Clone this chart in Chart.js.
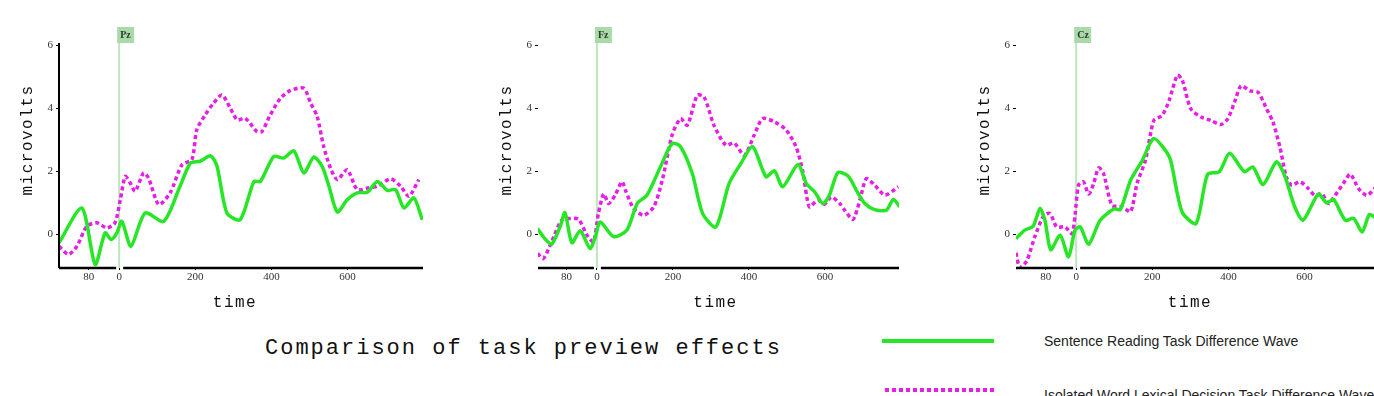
<!DOCTYPE html>
<html><head><meta charset="utf-8">
<style>
html,body{margin:0;padding:0;background:#fff;overflow:hidden;width:1374px;height:396px;position:relative}
canvas.p{position:absolute;top:0}
#title{position:absolute;left:265px;top:336px;font:22px "Liberation Mono",monospace;letter-spacing:2px;color:#111;white-space:nowrap}
.lg-line{position:absolute;height:4px}
.lg-text{position:absolute;font:14px "Liberation Sans",Arial,sans-serif;color:#222;white-space:nowrap}
</style>
<script src="https://cdn.jsdelivr.net/npm/chart.js@4/dist/chart.umd.min.js"></script>
</head><body>
<canvas class="p" id="c0" width="440" height="320" style="left:0px"></canvas>
<canvas class="p" id="c1" width="440" height="320" style="left:480px"></canvas>
<canvas class="p" id="c2" width="440" height="320" style="left:960px"></canvas>
<div id="title">Comparison of task preview effects</div>
<div class="lg-line" style="left:882px;top:339px;width:112px;background:#26e626"></div>
<div class="lg-text" id="lg0" style="left:1044px;top:333px"></div>
<div class="lg-line" style="left:885px;top:388px;width:112px;background:repeating-linear-gradient(to right,#e61ee6 0 4px,transparent 4px 7px)"></div>
<div class="lg-text" id="lg1" style="left:1044px;top:387px"></div>
<script>
// ---- data ----
const electrodes = ['Pz', 'Fz', 'Cz'];
const seriesNames = ['Sentence Reading Task Difference Wave', 'Isolated Word Lexical Decision Task Difference Wave'];
const xTickValues = [-80, 0, 200, 400, 600];
const xTickLabels = ['80', '0', '200', '400', '600'];
const yTickValues = [0, 2, 4, 6];
const yTickLabels = ['0', '2', '4', '6'];
const xAxisTitle = 'time';
const yAxisTitle = 'microvolts';

const pzSentenceTime = [-158,-98,-63,-37,-21,-6,7,31,68,117,160,187,213,240,257,283,318,354,371,406,432,459,485,511,533,551,573,599,625,652,678,704,726,748,774,796];
const pzSentence = [-0.26,0.84,-0.95,0.05,-0.16,0.05,0.42,-0.37,0.68,0.42,1.53,2.26,2.32,2.49,2.16,0.68,0.47,1.68,1.68,2.47,2.42,2.65,1.95,2.45,2.16,1.53,0.71,1.1,1.32,1.34,1.68,1.4,1.42,0.84,1.16,0.47];
const pzIsolatedTime = [-158,-133,-111,-85,-59,-32,-11,3,16,29,42,64,77,104,134,165,191,204,226,248,270,292,310,331,362,375,397,424,450,485,503,520,537,555,573,599,625,652,678,713,739,761,787];
const pzIsolated = [-0.37,-0.63,-0.37,0.26,0.37,0.21,0.37,1.1,1.84,1.63,1.37,1.95,1.79,0.95,1.32,2.21,2.37,3.32,3.79,4.16,4.42,4.0,3.63,3.68,3.26,3.26,3.79,4.32,4.56,4.63,4.16,3.74,2.79,2.1,1.74,2.05,1.42,1.47,1.53,1.76,1.53,1.21,1.74];

const fzSentenceTime = [-156,-137,-119,-97,-84,-66,-44,-18,-4,9,44,79,106,132,167,198,220,251,278,313,348,379,410,445,467,489,529,551,573,595,612,634,661,683,705,731,762,780,797];
const fzSentence = [0.19,-0.13,-0.31,0.24,0.69,-0.26,0.12,-0.44,-0.07,0.4,-0.07,0.14,0.98,1.25,2.14,2.88,2.78,1.93,0.67,0.24,1.62,2.25,2.78,1.83,2.02,1.51,2.22,1.62,1.35,0.98,1.25,1.96,1.85,1.4,0.98,0.79,0.77,1.11,0.88];
const fzIsolatedTime = [-156,-141,-119,-93,-70,-48,-26,-9,4,18,31,48,66,75,97,123,150,172,198,220,238,264,282,308,339,361,388,414,436,467,498,524,542,559,581,599,617,639,652,674,692,709,731,758,793];
const fzIsolated = [-0.6,-0.76,-0.23,0.45,0.51,0.48,-0.02,-0.23,0.67,1.28,0.98,1.25,1.67,1.4,0.82,0.61,0.88,1.72,3.15,3.67,3.46,4.41,4.36,3.46,2.83,2.9,2.51,3.15,3.67,3.57,3.31,2.78,1.99,0.88,1.09,0.96,1.19,0.98,0.77,0.48,1.09,1.77,1.56,1.25,1.51];

const czSentenceTime = [-158,-135,-113,-95,-82,-67,-42,-20,-3,11,33,63,99,116,143,174,203,231,248,278,315,345,376,403,442,464,491,526,548,574,596,636,658,676,707,729,751,770,788,798];
const czSentence = [-0.13,0.14,0.26,0.82,0.45,-0.48,-0.02,-0.71,0.14,0.24,-0.31,0.45,0.81,0.79,1.72,2.35,3.04,2.72,2.35,0.72,0.35,1.9,1.99,2.57,1.99,2.14,1.58,2.3,1.85,0.88,0.45,1.28,1.0,1.11,0.45,0.51,0.08,0.63,0.51,0.4];
const czIsolatedTime = [-158,-148,-130,-108,-86,-69,-51,-29,-11,-3,6,19,33,46,59,72,94,121,143,160,182,204,226,244,266,279,301,328,354,380,398,416,433,456,478,500,517,535,552,566,588,610,627,645,663,680,702,720,742,764,788,798];
const czIsolated = [-0.58,-1.05,-0.84,-0.05,0.58,0.67,0.24,0.24,0.03,0.61,1.56,1.67,1.28,1.62,2.11,1.93,0.93,0.88,0.72,1.62,2.35,3.61,3.77,4.24,5.05,4.88,3.98,3.72,3.61,3.48,3.66,4.19,4.71,4.55,4.5,3.98,3.56,2.77,1.82,1.56,1.67,1.45,1.24,1.29,0.98,1.24,1.62,1.91,1.45,1.24,1.51,1.6];

// ---- layout / style ----
const panelLayout = [
  {yWidth: 59, padRight: 17, xMin: -158, xMax: 798, yLine: true, titleDX: -6},
  {yWidth: 58, padRight: 21, xMin: -155, xMax: 795, yLine: false, titleDX: -3},
  {yWidth: 56, padRight: 20, xMin: -158, xMax: 798, yLine: false, titleDX: -8}
];
const GREEN = '#26e626', MAGENTA = '#e61ee6';

function pts(t, v) { return t.map((x, i) => ({x: x, y: v[i]})); }
const panelData = [
  [pts(pzSentenceTime, pzSentence), pts(pzIsolatedTime, pzIsolated)],
  [pts(fzSentenceTime, fzSentence), pts(fzIsolatedTime, fzIsolated)],
  [pts(czSentenceTime, czSentence), pts(czIsolatedTime, czIsolated)]
];

document.getElementById('lg0').textContent = seriesNames[0];
document.getElementById('lg1').textContent = seriesNames[1];

const decor = {
  id: 'decor',
  beforeDatasetsDraw(chart, args, opts) {
    const {ctx, chartArea: a, scales: {x}} = chart;
    const x0 = x.getPixelForValue(0);
    ctx.save();
    ctx.strokeStyle = '#bde6bd';
    ctx.lineWidth = 2;
    ctx.beginPath(); ctx.moveTo(x0, 40); ctx.lineTo(x0, a.bottom); ctx.stroke();
    ctx.restore();
  },
  afterDraw(chart, args, opts) {
    const {ctx, chartArea: a, scales: {x}} = chart;
    const x0 = x.getPixelForValue(0);
    ctx.save();
    // x axis line with gap at 0
    ctx.strokeStyle = '#000'; ctx.lineWidth = 2.5;
    ctx.beginPath();
    ctx.moveTo(a.left, a.bottom); ctx.lineTo(x0 - 3, a.bottom);
    ctx.moveTo(x0 + 4, a.bottom); ctx.lineTo(a.right, a.bottom);
    ctx.stroke();
    if (opts.yLine) {
      ctx.lineWidth = 2;
      ctx.beginPath(); ctx.moveTo(a.left, a.top - 2); ctx.lineTo(a.left, a.bottom); ctx.stroke();
    }
    // electrode label box
    ctx.fillStyle = '#a9dba9';
    ctx.fillRect(x0 - 2, 27, 17, 16);
    ctx.fillStyle = '#333';
    ctx.font = 'bold 10px "Liberation Serif", serif';
    ctx.textBaseline = 'middle'; ctx.textAlign = 'left';
    ctx.fillText(opts.label, x0 + 1, 35.5);
    // axis titles
    ctx.fillStyle = '#111';
    ctx.font = '16px "Liberation Mono", monospace';
    ctx.letterSpacing = '1.5px';
    ctx.textAlign = 'center';
    ctx.fillText(xAxisTitle, (a.left + a.right) / 2 + opts.titleDX, 303);
    ctx.translate(a.left - 31, 140);
    ctx.rotate(-Math.PI / 2);
    ctx.fillText(yAxisTitle, 0, 0);
    ctx.restore();
  }
};

panelLayout.forEach((L, i) => {
  new Chart(document.getElementById('c' + i), {
    type: 'line',
    data: {
      datasets: [
        {label: seriesNames[0], data: panelData[i][0], borderColor: GREEN, borderWidth: 3.5, tension: 0.25, pointRadius: 0, fill: false},
        {label: seriesNames[1], data: panelData[i][1], borderColor: MAGENTA, borderWidth: 3.5, borderDash: [4, 3], tension: 0.25, pointRadius: 0, fill: false}
      ]
    },
    options: {
      responsive: false, animation: false, devicePixelRatio: 1,
      layout: {padding: {left: 0, top: 45, right: L.padRight, bottom: 0}},
      plugins: {legend: {display: false}, tooltip: {enabled: false},
        decor: {label: electrodes[i], yLine: L.yLine, titleDX: L.titleDX}},
      scales: {
        x: {
          type: 'linear', min: L.xMin, max: L.xMax,
          afterBuildTicks: s => { s.ticks = xTickValues.map(v => ({value: v})); },
          afterFit: s => { s.height = 52; },
          ticks: {callback: (v) => xTickLabels[xTickValues.indexOf(v)], font: {family: '"Liberation Serif", serif', size: 11}, color: '#333', padding: 1, maxRotation: 0, autoSkip: false},
          grid: {drawOnChartArea: false, drawTicks: true, tickLength: 2, color: '#000'},
          border: {display: false}
        },
        y: {
          type: 'linear', min: -1.06, max: 6,
          afterBuildTicks: s => { s.ticks = yTickValues.map(v => ({value: v})); },
          afterFit: s => { s.width = L.yWidth; },
          ticks: {callback: (v) => yTickLabels[yTickValues.indexOf(v)], font: {family: '"Liberation Serif", serif', size: 11}, color: '#333', padding: 3},
          grid: {drawOnChartArea: false, drawTicks: true, tickLength: 3, color: '#000'},
          border: {display: false}
        }
      }
    },
    plugins: [decor]
  });
});
</script>
</body></html>
